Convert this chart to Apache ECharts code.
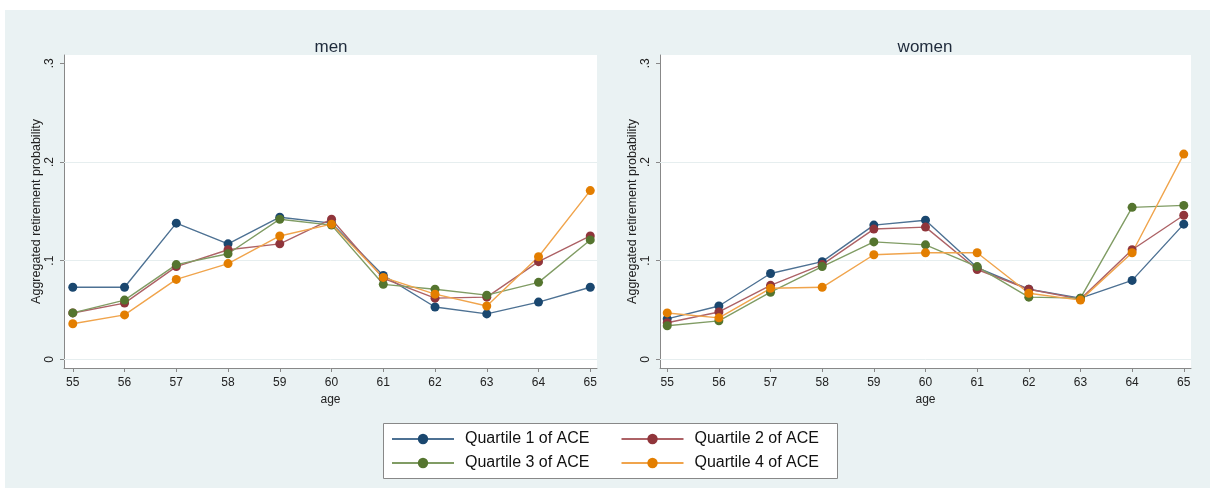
<!DOCTYPE html>
<html>
<head>
    <meta charset="utf-8" />
    <script src="https://cdn.jsdelivr.net/npm/echarts@6/dist/echarts.min.js"></script>
    <style>
        html, body { margin: 0; padding: 0; background: #fff; }
        #chart { position: absolute; left: 5px; top: 10px; width: 1205px; height: 478px; background: #eaf2f3; }
    </style>
</head>
<body>
    <div id="chart"></div>

    <script type="text/javascript">
        // data
        var ages = [55, 56, 57, 58, 59, 60, 61, 62, 63, 64, 65];
        var quartiles = ['Quartile 1 of ACE', 'Quartile 2 of ACE', 'Quartile 3 of ACE', 'Quartile 4 of ACE'];
        var yTicks = [0, 0.1, 0.2, 0.3];

        var menQ1 = [0.073, 0.073, 0.138, 0.117, 0.144, 0.138, 0.085, 0.053, 0.046, 0.058, 0.073];
        var menQ2 = [0.047, 0.057, 0.094, 0.111, 0.117, 0.142, 0.082, 0.062, 0.063, 0.099, 0.125];
        var menQ3 = [0.047, 0.060, 0.096, 0.107, 0.142, 0.136, 0.076, 0.071, 0.065, 0.078, 0.121];
        var menQ4 = [0.036, 0.045, 0.081, 0.097, 0.125, 0.137, 0.083, 0.066, 0.054, 0.104, 0.171];

        var womenQ1 = [0.041, 0.054, 0.087, 0.099, 0.136, 0.141, 0.093, 0.071, 0.062, 0.080, 0.137];
        var womenQ2 = [0.037, 0.048, 0.075, 0.096, 0.132, 0.134, 0.091, 0.071, 0.061, 0.111, 0.146];
        var womenQ3 = [0.034, 0.039, 0.068, 0.094, 0.119, 0.116, 0.094, 0.063, 0.062, 0.154, 0.156];
        var womenQ4 = [0.047, 0.042, 0.072, 0.073, 0.106, 0.108, 0.108, 0.067, 0.060, 0.108, 0.208];

        var markerColors = ['#1a476f', '#90353b', '#55752f', '#e37e00'];
        var lineColors = ['#4d7193', '#ad6266', '#809c64', '#f0a44c'];
        var font = '"Liberation Sans", Arial, sans-serif';

        var chart = echarts.init(document.getElementById('chart'));

        function pairs(vals) {
            return ages.map(function (a, i) { return [a, vals[i]]; });
        }

        function makeSeries(vals, q, idx) {
            var s = {
                name: quartiles[q],
                type: 'line',
                xAxisIndex: idx,
                yAxisIndex: idx,
                data: pairs(vals),
                symbol: 'circle',
                symbolSize: 9,
                lineStyle: { color: lineColors[q], width: 1.4 },
                itemStyle: { color: markerColors[q] },
                emphasis: { disabled: true },
                z: 3
            };
            if (q === 0) {
                // faint Stata grid lines
                s.markLine = {
                    silent: true,
                    symbol: 'none',
                    label: { show: false },
                    lineStyle: { color: '#e6eeef', width: 1, type: 'solid' },
                    data: [{ yAxis: 0 }, { yAxis: 0.1 }, { yAxis: 0.2 }],
                    z: 1
                };
            }
            return s;
        }

        function xAxisOpt(idx, min, max) {
            return {
                type: 'value',
                gridIndex: idx,
                min: min,
                max: max,
                name: 'age',
                nameLocation: 'middle',
                nameGap: 24,
                nameTextStyle: { fontFamily: font, fontSize: 12, color: '#222' },
                axisLine: { show: true, onZero: false, lineStyle: { color: '#888', width: 1 } },
                axisTick: { show: true, length: 4, customValues: ages, lineStyle: { color: '#888' } },
                axisLabel: { customValues: ages, fontFamily: font, fontSize: 12, color: '#222', margin: 9 },
                splitLine: { show: false }
            };
        }

        function yAxisOpt(idx) {
            return {
                type: 'value',
                gridIndex: idx,
                min: -0.0088,
                max: 0.3084,
                name: 'Aggregated retirement probability',
                nameLocation: 'middle',
                nameRotate: 90,
                nameGap: 19,
                nameTextStyle: { fontFamily: font, fontSize: 12.5, color: '#222' },
                axisLine: { show: true, onZero: false, lineStyle: { color: '#888', width: 1 } },
                axisTick: { show: true, length: 4, customValues: yTicks, lineStyle: { color: '#888' } },
                axisLabel: {
                    customValues: yTicks,
                    rotate: 90,
                    margin: 8,
                    fontFamily: font,
                    fontSize: 12,
                    color: '#222',
                    formatter: function (v) {
                        return v === 0 ? '0' : '.' + Math.round(v * 10);
                    }
                },
                splitLine: { show: false }
            };
        }

        var legendBase = {
            padding: 0,
            itemWidth: 62,
            itemHeight: 13,
            itemGap: 31,
            selectedMode: false,
            textStyle: {
                fontFamily: font,
                fontSize: 16,
                color: '#111',
                padding: [0, 0, 0, 6]
            }
        };

        var option = {
            animation: false,
            title: [
                { text: 'men', left: 321, top: 24, textAlign: 'center',
                  textStyle: { fontFamily: font, fontSize: 17, fontWeight: 'normal', color: '#1e2a3a' } },
                { text: 'women', left: 915, top: 24, textAlign: 'center',
                  textStyle: { fontFamily: font, fontSize: 17, fontWeight: 'normal', color: '#1e2a3a' } }
            ],
            graphic: [{
                type: 'rect',
                left: 378,
                top: 413,
                shape: { width: 454, height: 55 },
                style: { fill: '#fff', stroke: '#888', lineWidth: 1 },
                z: 0
            }],
            legend: [
                Object.assign({}, legendBase, { data: [quartiles[0], quartiles[1]], left: 386, top: 421 }),
                Object.assign({}, legendBase, { data: [quartiles[2], quartiles[3]], left: 386, top: 445 })
            ],
            grid: [
                { left: 59, right: 613, top: 45, bottom: 120, show: true, backgroundColor: '#fff', borderWidth: 0 },
                { left: 655, right: 19, top: 45, bottom: 120, show: true, backgroundColor: '#fff', borderWidth: 0 }
            ],
            xAxis: [xAxisOpt(0, 54.83, 65.13), xAxisOpt(1, 54.86, 65.14)],
            yAxis: [yAxisOpt(0), yAxisOpt(1)],
            series: [
                makeSeries(menQ1, 0, 0),
                makeSeries(menQ2, 1, 0),
                makeSeries(menQ3, 2, 0),
                makeSeries(menQ4, 3, 0),
                makeSeries(womenQ1, 0, 1),
                makeSeries(womenQ2, 1, 1),
                makeSeries(womenQ3, 2, 1),
                makeSeries(womenQ4, 3, 1)
            ]
        };

        chart.setOption(option);
    </script>
</body>
</html>
